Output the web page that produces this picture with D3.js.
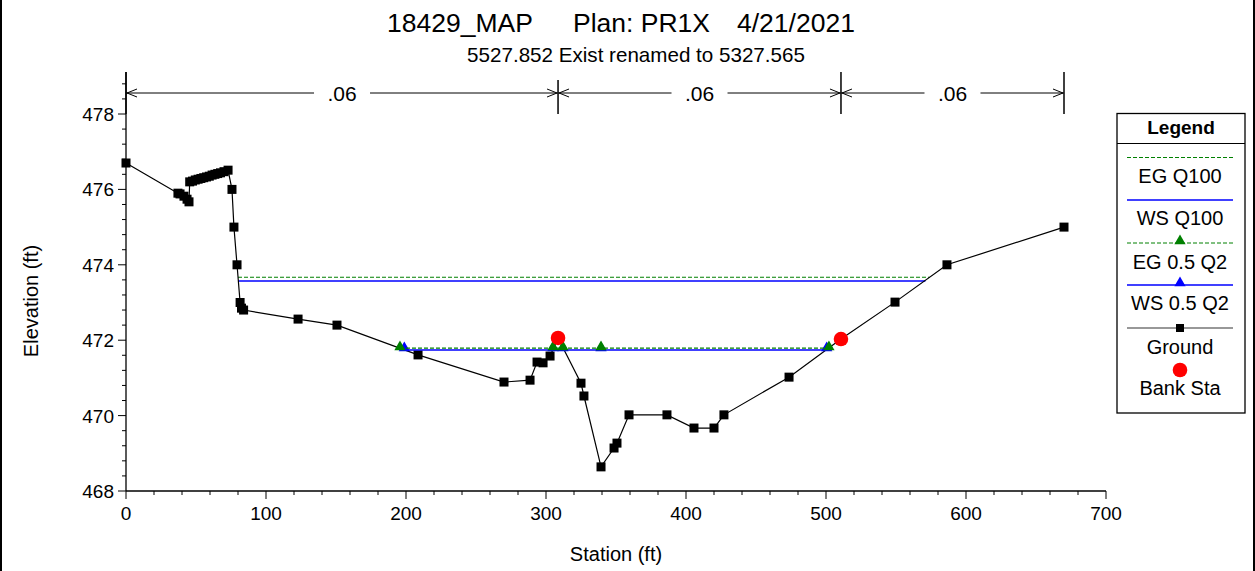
<!DOCTYPE html>
<html><head><meta charset="utf-8">
<script src="https://cdn.jsdelivr.net/npm/d3@7"></script>
<style>body{margin:0;background:#fff}svg{display:block;font-family:"Liberation Sans",Arial,sans-serif}</style>
</head><body>
<svg id="c" width="1255" height="571"></svg>
<script>
// ---- data ----
const groundSta  = [0, 37.1, 38.6, 41.4, 43.6, 45.0, 45.5, 47.5, 49.5, 51.5, 53.5, 55.5, 57.5, 59.5, 61.5, 63.5, 65.5, 67.5, 70.0, 72.9, 75.7, 77.1, 79.3, 81.5, 82.5, 84.0, 122.9, 150.7, 208.6, 270.0, 288.6, 293.6, 297.9, 302.9, 308.6, 325.0, 327.1, 339.3, 348.6, 350.7, 359.3, 386.4, 405.7, 420.0, 427.1, 473.6, 510.7, 549.3, 586.4, 670.0];
const groundElev = [476.70, 475.90, 475.88, 475.82, 475.74, 475.67, 476.20, 476.22, 476.25, 476.27, 476.29, 476.31, 476.33, 476.35, 476.38, 476.40, 476.42, 476.44, 476.47, 476.51, 476.00, 475.00, 474.00, 473.00, 472.85, 472.80, 472.56, 472.40, 471.61, 470.89, 470.94, 471.42, 471.40, 471.58, 472.06, 470.86, 470.52, 468.64, 469.14, 469.27, 470.02, 470.02, 469.67, 469.67, 470.02, 471.02, 472.03, 473.01, 474.00, 475.00];
const bankSta  = [308.6, 510.7];
const bankElev = [472.06, 472.03];
const egQ100Sta = [80.0, 574.0];
const egQ100Elev = [473.67, 473.67];
const wsQ100Sta = [80.2, 571.0];
const wsQ100Elev = [473.57, 473.57];
const egQ2Sta = [195.7, 305.0, 312.1, 339.3, 502.1];
const egQ2Elev = [471.79, 471.79, 471.79, 471.79, 471.79];
const wsQ2Sta = [198.8, 305.0, 312.1, 339.3, 500.5];
const wsQ2Elev = [471.74, 471.74, 471.74, 471.74, 471.74];
const manningSta = [0, 308.6, 510.7, 670.0];
const manningN = [".06", ".06", ".06"];
const xTicks = [0, 100, 200, 300, 400, 500, 600, 700];
const yTicks = [468, 470, 472, 474, 476, 478];
const titleParts = ["18429_MAP", "Plan: PR1X", "4/21/2021"];
const subtitle = "5527.852 Exist renamed to 5327.565";
const legendItems = ["EG Q100", "WS Q100", "EG 0.5 Q2", "WS 0.5 Q2", "Ground", "Bank Sta"];

// ---- drawing ----
const svg = d3.select("#c");
const x = d3.scaleLinear().domain([0, 700]).range([126, 1106]);
const y = d3.scaleLinear().domain([468, 478]).range([491, 114]);
const GREEN = "#008000", BLUE = "#0000ff";

// frame
svg.append("line").attr("x1",1).attr("x2",1).attr("y1",0).attr("y2",571).attr("stroke","#000").attr("stroke-width",2);
svg.append("line").attr("x1",1254).attr("x2",1254).attr("y1",0).attr("y2",571).attr("stroke","#000").attr("stroke-width",2);

// title
const titleX = [387, 573, 737];
titleParts.forEach((t, i) => svg.append("text").attr("x",titleX[i]).attr("y",32).attr("font-size",26.5).text(t));

// manning's n bands
const mY = 93;
const mg = svg.append("g").attr("stroke","#000").attr("fill","none");
manningSta.forEach(s => {
  mg.append("line").attr("x1",x(s)).attr("x2",x(s)).attr("y1",72).attr("y2",114).attr("stroke-width",1.5);
});
for (let i = 0; i < manningN.length; i++) {
  const a = x(manningSta[i]), b = x(manningSta[i+1]);
  mg.append("line").attr("x1",a).attr("x2",b).attr("y1",mY).attr("y2",mY).attr("stroke-width",1);
  mg.append("path").attr("d",`M${a+11},${mY-4}L${a+1},${mY}L${a+11},${mY+4}`).attr("stroke-width",1);
  mg.append("path").attr("d",`M${b-11},${mY-4}L${b-1},${mY}L${b-11},${mY+4}`).attr("stroke-width",1);
  const cx = (a+b)/2;
  svg.append("rect").attr("x",cx-28).attr("y",mY-12).attr("width",56).attr("height",24).attr("fill","#fff");
  svg.append("text").attr("x",cx).attr("y",mY+8).attr("text-anchor","middle").attr("font-size",21).text(manningN[i]);
}
// subtitle (with white background)
svg.append("rect").attr("x",458).attr("y",42).attr("width",356).attr("height",38).attr("fill","#fff");
svg.append("text").attr("x",636).attr("y",62).attr("text-anchor","middle").attr("font-size",20.6).text(subtitle);

// axes
const ax = svg.append("g").attr("stroke","#000").attr("stroke-width",1.3);
ax.append("line").attr("x1",126).attr("x2",126).attr("y1",72).attr("y2",491);
ax.append("line").attr("x1",126).attr("x2",1106).attr("y1",491).attr("y2",491);
for (let v = 468; v <= 479.0001; v += 0.4) {
  const major = yTicks.some(t => Math.abs(t - v) < 1e-6);
  ax.append("line").attr("x1",126 - (major ? 8 : 4)).attr("x2",126).attr("y1",y(v)).attr("y2",y(v)).attr("stroke-width",1);
}
for (let v = 0; v <= 700; v += 20) {
  const major = xTicks.includes(v);
  ax.append("line").attr("x1",x(v)).attr("x2",x(v)).attr("y1",491).attr("y2",491 + (major ? 8 : 4)).attr("stroke-width",1);
}
yTicks.forEach(t => svg.append("text").attr("x",114).attr("y",y(t)+7).attr("text-anchor","end").attr("font-size",19).text(t));
xTicks.forEach(t => svg.append("text").attr("x",x(t)).attr("y",520).attr("text-anchor","middle").attr("font-size",19).text(t));
svg.append("text").attr("x",616).attr("y",561).attr("text-anchor","middle").attr("font-size",20).text("Station (ft)");
svg.append("text").attr("transform","translate(38,301) rotate(-90)").attr("text-anchor","middle").attr("font-size",20).text("Elevation (ft)");

const line = d3.line().x(d => x(d[0])).y(d => y(d[1]));
const zip = (a, b) => a.map((v, i) => [v, b[i]]);

// Q100 lines
svg.append("path").attr("d", line(zip(wsQ100Sta, wsQ100Elev))).attr("stroke",BLUE).attr("stroke-width",1.3).attr("fill","none");
svg.append("path").attr("d", line(zip(egQ100Sta, egQ100Elev))).attr("stroke",GREEN).attr("stroke-width",1.2).attr("stroke-dasharray","4,2").attr("fill","none");

// ground
const gd = zip(groundSta, groundElev);
svg.append("path").attr("d", line(gd)).attr("stroke","#000").attr("stroke-width",1.2).attr("fill","none");
svg.selectAll("rect.g").data(gd).enter().append("rect").attr("class","g")
  .attr("x",d => x(d[0]) - 4.5).attr("y",d => y(d[1]) - 4.5).attr("width",9).attr("height",9).attr("fill","#000");

// Q2 lines
const tri = d3.symbol().type(d3.symbolTriangle).size(55);
const wsd = zip(wsQ2Sta, wsQ2Elev), egd = zip(egQ2Sta, egQ2Elev);
svg.append("path").attr("d", line(wsd)).attr("stroke",BLUE).attr("stroke-width",1.3).attr("fill","none");
svg.selectAll("path.wt").data(wsd).enter().append("path").attr("class","wt").attr("d",tri)
  .attr("transform",d => `translate(${x(d[0])},${y(d[1])-2})`).attr("fill",BLUE);
svg.append("path").attr("d", line(egd)).attr("stroke",GREEN).attr("stroke-width",1.2).attr("stroke-dasharray","4,2").attr("fill","none");
svg.selectAll("path.et").data(egd).enter().append("path").attr("class","et").attr("d",tri)
  .attr("transform",d => `translate(${x(d[0])},${y(d[1])-1})`).attr("fill",GREEN);

// bank stations
svg.selectAll("circle.b").data(zip(bankSta, bankElev)).enter().append("circle").attr("class","b")
  .attr("cx",d => x(d[0])).attr("cy",d => y(d[1])).attr("r",7.3).attr("fill","#ff0000");

// legend
const L = svg.append("g");
L.append("rect").attr("x",1117).attr("y",113.5).attr("width",128).attr("height",299.5).attr("fill","#fff").attr("stroke","#000").attr("stroke-width",1.3);
L.append("line").attr("x1",1117).attr("x2",1245).attr("y1",143.5).attr("y2",143.5).attr("stroke","#000").attr("stroke-width",1);
L.append("text").attr("x",1181).attr("y",134).attr("text-anchor","middle").attr("font-size",19).attr("font-weight","bold").text("Legend");
const lx1 = 1127, lx2 = 1233, lcx = 1180;
const symY = [157.5, 200, 243, 285, 328, 370];
const txtY = [183, 225, 269, 310, 354, 395];
L.append("line").attr("x1",lx1).attr("x2",lx2).attr("y1",symY[0]).attr("y2",symY[0]).attr("stroke",GREEN).attr("stroke-dasharray","4,2");
L.append("line").attr("x1",lx1).attr("x2",lx2).attr("y1",symY[1]).attr("y2",symY[1]).attr("stroke",BLUE).attr("stroke-width",1.3);
L.append("line").attr("x1",lx1).attr("x2",lx2).attr("y1",symY[2]).attr("y2",symY[2]).attr("stroke",GREEN).attr("stroke-dasharray","4,2");
L.append("path").attr("d",tri).attr("transform",`translate(${lcx},${symY[2]-2})`).attr("fill",GREEN);
L.append("line").attr("x1",lx1).attr("x2",lx2).attr("y1",symY[3]).attr("y2",symY[3]).attr("stroke",BLUE).attr("stroke-width",1.3);
L.append("path").attr("d",tri).attr("transform",`translate(${lcx},${symY[3]-2})`).attr("fill",BLUE);
L.append("line").attr("x1",lx1).attr("x2",lx2).attr("y1",symY[4]).attr("y2",symY[4]).attr("stroke","#333").attr("stroke-width",1.2);
L.append("rect").attr("x",lcx-4).attr("y",symY[4]-4).attr("width",8).attr("height",8).attr("fill","#000");
L.append("circle").attr("cx",lcx).attr("cy",symY[5]).attr("r",7.3).attr("fill","#ff0000");
legendItems.forEach((t, i) => L.append("text").attr("x",lcx).attr("y",txtY[i]).attr("text-anchor","middle").attr("font-size",20).text(t));
</script>
</body></html>
